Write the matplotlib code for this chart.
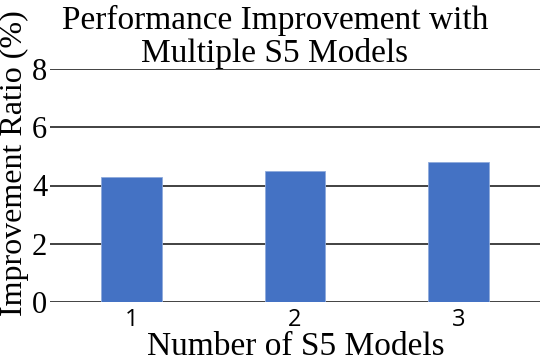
import numpy as np
import matplotlib.pyplot as plt

models = ["1", "2", "3"]
ratios = [4.3, 4.5, 4.8]
yticks = [0, 2, 4, 6, 8]

fig = plt.figure(figsize=(5.4, 3.57), dpi=100)
ax = fig.add_axes([50/540, 1 - 302/357, 490/540, (302 - 69)/357])

x = np.arange(len(models))
ax.bar(x, ratios, width=0.37, color="#4472C4", edgecolor="#8FAADC", linewidth=0.6, zorder=3)

ax.set_xlim(-0.5, 2.5)
ax.set_ylim(0, 8)
ax.set_yticks(yticks)
ax.set_yticklabels([str(t) for t in yticks], fontfamily="Liberation Serif", fontsize=22)
ax.set_xticks(x)
ax.set_xticklabels(models, fontfamily="Open Sans", fontsize=17)
ax.tick_params(axis="both", length=0, pad=2)
ax.tick_params(axis="x", pad=4)
ax.grid(axis="y", color="#333333", linewidth=1.3, zorder=0)
for s in ax.spines.values():
    s.set_visible(False)

fig.text(275/540, 1 - 37/357, "Performance Improvement with\nMultiple S5 Models",
         ha="center", va="center", fontfamily="Liberation Serif", fontsize=24, linespacing=1.1)
fig.text(14/540, 1 - 163/357, "Improvement Ratio (%)", rotation=90, ha="center", va="center",
         fontfamily="Liberation Serif", fontsize=23)
fig.text(296/540, 1 - 347/357, "Number of S5 Models", ha="center", va="center",
         fontfamily="Liberation Serif", fontsize=24)

fig.savefig("out.png", dpi=100)
